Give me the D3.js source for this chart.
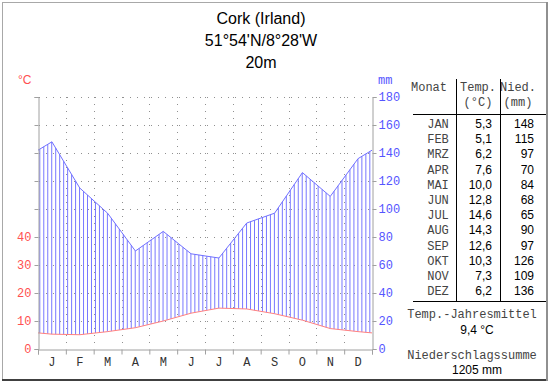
<!DOCTYPE html>
<html><head><meta charset="utf-8">
<script src="https://cdn.jsdelivr.net/npm/d3@7"></script>
<style>body{margin:0;background:#fff}svg{display:block}</style>
</head><body>
<svg id="c" width="550" height="384"></svg>
<script>
const monthNames = ["JAN","FEB","MRZ","APR","MAI","JUN","JUL","AUG","SEP","OKT","NOV","DEZ"];
const monthInitials = ["J","F","M","A","M","J","J","A","S","O","N","D"];
const temps = [5.3,5.1,6.2,7.6,10.0,12.8,14.6,14.3,12.6,10.3,7.3,6.2];
const precip = [148,115,97,70,84,68,65,90,97,126,109,136];
const tempLabels = ["5,3","5,1","6,2","7,6","10,0","12,8","14,6","14,3","12,6","10,3","7,3","6,2"];
const tempTicks = [0,10,20,30,40];
const precipTicks = [0,20,40,60,80,100,120,140,160,180];
const titleLines = ["Cork (Irland)","51°54'N/8°28'W","20m"];
const annualTemp = "9,4 °C";
const annualPrecip = "1205 mm";

const svg = d3.select("#c");
const X0 = 38, X1 = 372, Y0 = 349, Y1 = 97;
const red = "#ff5050", blue = "#5555ff";
const mono = "'Liberation Mono', 'DejaVu Sans Mono', monospace";
const sans = "'Liberation Sans', Arial, sans-serif";

// frame
svg.append("rect").attr("x",2.5).attr("y",2.5).attr("width",544).attr("height",377)
  .attr("fill","none").attr("stroke","#a8a8a8");
svg.append("line").attr("x1",2).attr("x2",548).attr("y1",380).attr("y2",380).attr("stroke","#404040").attr("stroke-width",2);
svg.append("line").attr("x1",547).attr("x2",547).attr("y1",2).attr("y2",381).attr("stroke","#909090").attr("stroke-width",2);

// title
svg.selectAll("text.title").data(titleLines).join("text")
  .attr("x",261).attr("y",(d,i)=>24+i*22).attr("text-anchor","middle")
  .attr("font-family",sans).attr("font-size",16).attr("fill","#000").text(d=>d);

// scales
const x = d3.scaleLinear().domain([0,12]).range([X0,X1]);
const yT = d3.scaleLinear().domain([0,90]).range([Y0,Y1]);
const yP = d3.scaleLinear().domain([0,180]).range([Y0,Y1]);
const band = d3.scaleBand().domain(d3.range(12)).range([X0,X1]);

// curve points: edges use average of Dec and Jan
const px = [0, ...d3.range(12).map(i=>i+0.5), 12];
const edgeT = (temps[0]+temps[11])/2, edgeP = (precip[0]+precip[11])/2;
const tVals = [edgeT, ...temps, edgeT];
const pVals = [edgeP, ...precip, edgeP];
const tAt = d3.scaleLinear().domain(px).range(tVals);
const pAt = d3.scaleLinear().domain(px).range(pVals);

// grid
const grid = svg.append("g").attr("stroke","#909090").attr("stroke-dasharray","1,6");
grid.selectAll("line.h").data(precipTicks.slice(1)).join("line")
  .attr("x1",X0+1).attr("x2",X1).attr("y1",d=>Math.round(yP(d))+0.5).attr("y2",d=>Math.round(yP(d))+0.5);
grid.selectAll("line.v").data(d3.range(1,12)).join("line")
  .attr("x1",d=>Math.round(x(d))+0.5).attr("x2",d=>Math.round(x(d))+0.5).attr("y1",Y1).attr("y2",Y0);

// hatch (thin vertical lines, 7 per month)
const step = (x(1)-x(0))/7;
const hx = d3.range(X0+1.8, X1, step);
svg.append("g").attr("stroke","#7878ff").attr("stroke-width",1)
  .selectAll("line").data(hx).join("line")
  .attr("x1",d=>d).attr("x2",d=>d)
  .attr("y1",d=>yT(tAt(x.invert(d)))).attr("y2",d=>yP(pAt(x.invert(d))));

// lines
svg.append("path").datum(px).attr("fill","none").attr("stroke","#ff8080").attr("stroke-width",1)
  .attr("d",d3.line().x(d=>x(d)).y(d=>yT(tAt(d))));
svg.append("path").datum(px).attr("fill","none").attr("stroke","#7070ff").attr("stroke-width",1)
  .attr("d",d3.line().x(d=>x(d)).y(d=>yP(pAt(d))));

// axes
const axL = svg.append("g").attr("transform",`translate(${X0+0.5},0)`)
  .call(d3.axisLeft(yT).tickValues(d3.range(0,100,10)).tickSize(4).tickPadding(3)
    .tickFormat(d=>tempTicks.includes(d)?d:""));
axL.select(".domain").attr("stroke","#a0a0a0");
axL.selectAll(".tick line").attr("stroke","#a0a0a0");
axL.selectAll("text").attr("fill",red).attr("font-family",mono).attr("font-size",12);

const axR = svg.append("g").attr("transform",`translate(${X1+0.5},0)`)
  .call(d3.axisRight(yP).tickValues(precipTicks).tickSize(4).tickPadding(2));
axR.select(".domain").attr("stroke","#a0a0a0");
axR.selectAll(".tick line").attr("stroke","#a0a0a0");
axR.selectAll("text").attr("fill",blue).attr("font-family",mono).attr("font-size",12);

const axB = svg.append("g").attr("transform",`translate(0,${Y0+0.5})`)
  .call(d3.axisBottom(x).tickValues(d3.range(0,13)).tickSize(5).tickFormat(""));
axB.select(".domain").attr("stroke","#a0a0a0");
axB.selectAll(".tick line").attr("stroke","#a0a0a0");
svg.selectAll("text.mon").data(monthInitials).join("text")
  .attr("x",(d,i)=>band(i)+band.bandwidth()/2).attr("y",366).attr("text-anchor","middle")
  .attr("font-family",mono).attr("font-size",12).attr("fill","#333").text(d=>d);

svg.append("text").attr("x",18).attr("y",84).attr("font-family",sans).attr("font-size",12).attr("fill",red).text("°C");
svg.append("text").attr("x",378).attr("y",84).attr("font-family",mono).attr("font-size",12).attr("fill",blue).text("mm");

// table
const tb = svg.append("g");
const gray = "#444";
tb.append("text").attr("x",429).attr("y",91).attr("text-anchor","middle").attr("font-family",mono).attr("font-size",12).attr("fill",gray).text("Monat");
tb.append("text").attr("x",478).attr("y",91).attr("text-anchor","middle").attr("font-family",mono).attr("font-size",12).attr("fill",gray).text("Temp.");
tb.append("text").attr("x",478).attr("y",106).attr("text-anchor","middle").attr("font-family",mono).attr("font-size",12).attr("fill",gray).text("(°C)");
tb.append("text").attr("x",518).attr("y",91).attr("text-anchor","middle").attr("font-family",mono).attr("font-size",12).attr("fill",gray).text("Nied.");
tb.append("text").attr("x",518).attr("y",106).attr("text-anchor","middle").attr("font-family",mono).attr("font-size",12).attr("fill",gray).text("(mm)");
tb.append("line").attr("x1",413).attr("x2",546).attr("y1",114.5).attr("y2",114.5).attr("stroke","#000");
tb.append("line").attr("x1",413).attr("x2",546).attr("y1",301.5).attr("y2",301.5).attr("stroke","#000");
[456.5,500.5].forEach(v=>tb.append("line").attr("x1",v).attr("x2",v).attr("y1",79).attr("y2",301).attr("stroke","#000"));
const rowY = i => 128 + i*15.2;
tb.selectAll("text.m").data(monthNames).join("text").attr("x",438).attr("y",(d,i)=>rowY(i))
  .attr("text-anchor","middle").attr("font-family",mono).attr("font-size",12).attr("fill",gray).text(d=>d);
tb.selectAll("text.t").data(tempLabels).join("text").attr("x",492).attr("y",(d,i)=>rowY(i))
  .attr("text-anchor","end").attr("font-family",sans).attr("font-size",12).attr("fill","#000").text(d=>d);
tb.selectAll("text.p").data(precip).join("text").attr("x",534).attr("y",(d,i)=>rowY(i))
  .attr("text-anchor","end").attr("font-family",sans).attr("font-size",12).attr("fill","#000").text(d=>d);
tb.append("text").attr("x",472).attr("y",318).attr("text-anchor","middle").attr("font-family",mono).attr("font-size",12).attr("fill",gray).text("Temp.-Jahresmittel");
tb.append("text").attr("x",477).attr("y",334).attr("text-anchor","middle").attr("font-family",sans).attr("font-size",12).attr("fill","#000").text(annualTemp);
tb.append("text").attr("x",472).attr("y",359).attr("text-anchor","middle").attr("font-family",mono).attr("font-size",12).attr("fill",gray).text("Niederschlagssumme");
tb.append("text").attr("x",477).attr("y",374).attr("text-anchor","middle").attr("font-family",sans).attr("font-size",12).attr("fill","#000").text(annualPrecip);
</script>
</body></html>
